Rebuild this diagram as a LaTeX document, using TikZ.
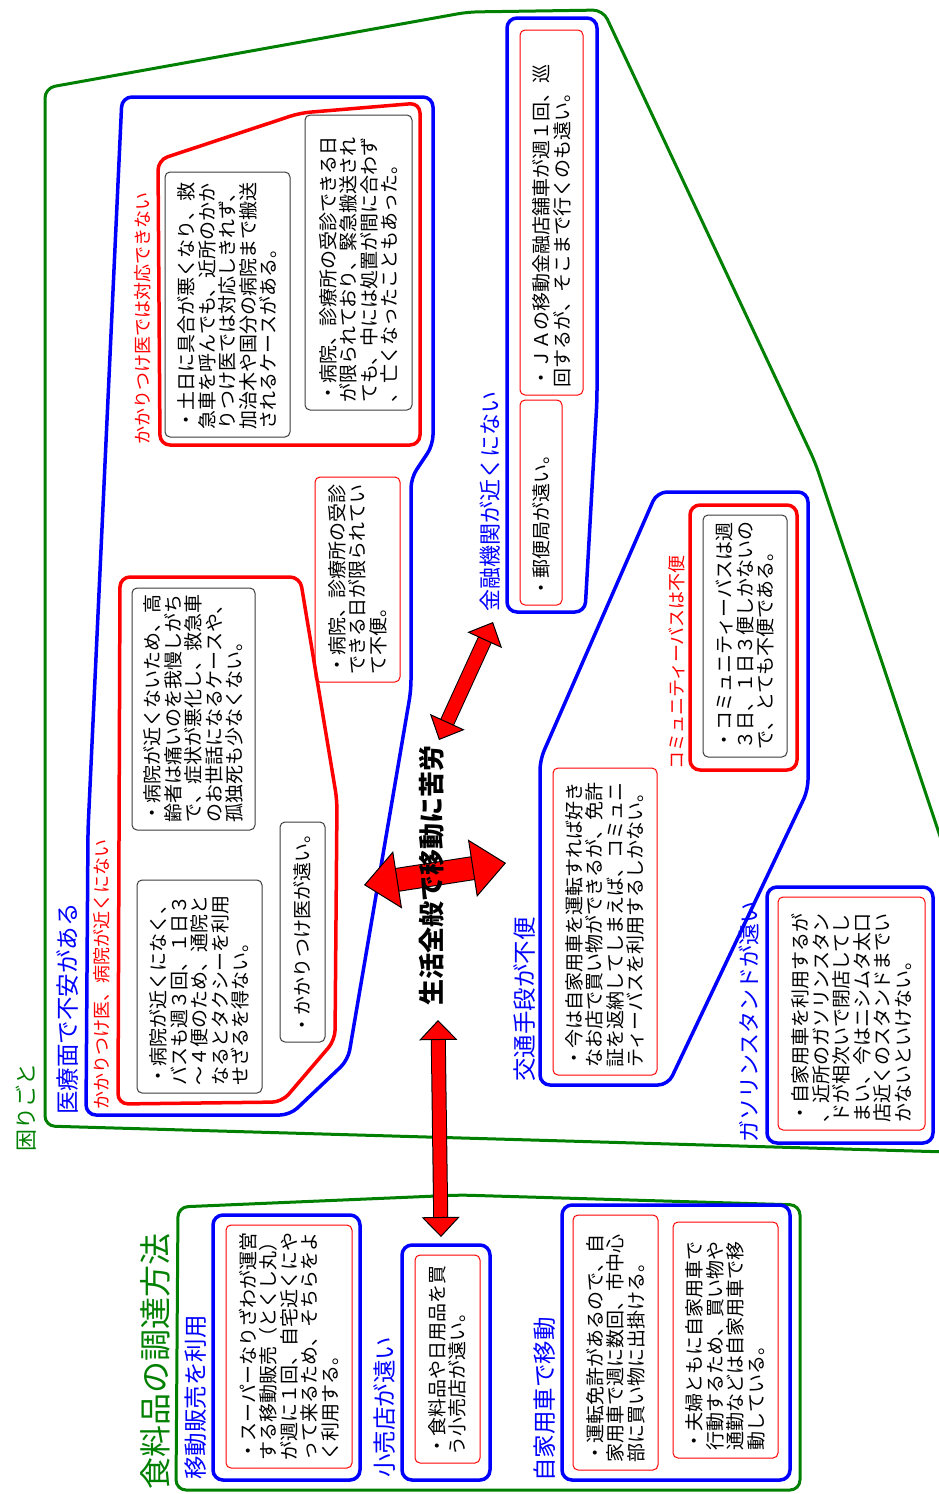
\documentclass[tikz,border=0pt]{standalone}
\usepackage{fontspec}
\setmainfont{Noto Sans CJK JP}
\usetikzlibrary{arrows.meta}
\definecolor{gr}{RGB}{0,128,0}
\definecolor{bl}{RGB}{0,0,255}
\definecolor{rd}{RGB}{255,0,0}
\definecolor{bx}{RGB}{60,60,60}
\begin{document}
\begin{tikzpicture}[x=1pt,y=-1pt,
  every node/.style={font=\fontsize{19}{20.5}\selectfont},
  tb/.style={rotate=90, align=left, inner xsep=8pt, inner ysep=0pt, rounded corners=5pt, line width=1pt},
  gbox/.style={tb, draw=bx},
  rbox/.style={tb, draw=rd},
  lab/.style={rotate=90, anchor=west, inner sep=0pt},
  glab/.style={lab, text=gr},
  blab/.style={lab, text=bl, font=\fontsize{23.5}{24}\selectfont},
  rlab/.style={lab, text=rd, font=\fontsize{18}{20}\selectfont},
  gline/.style={draw=gr, line width=3pt, rounded corners=10pt},
  bline/.style={draw=bl, line width=3.5pt, rounded corners=10pt},
  rline/.style={draw=rd, line width=3.5pt, rounded corners=10pt},
  dbl/.style={draw=rd, line width=13pt,
    {Triangle[length=20pt,width=38pt,fill=rd,color=black,line width=1pt]}-{Triangle[length=20pt,width=38pt,fill=rd,color=black,line width=1pt]},
    preaction={draw=black, line width=15pt, arrows=-, shorten >=19pt, shorten <=19pt}},
  dblbig/.style={draw=rd, line width=22pt,
    {Triangle[length=34pt,width=58pt,fill=rd,color=black,line width=1pt]}-{Triangle[length=34pt,width=58pt,fill=rd,color=black,line width=1pt]},
    preaction={draw=black, line width=24pt, arrows=-, shorten >=33pt, shorten <=33pt}}]
\useasboundingbox (0,0) rectangle (939,1494);
\clip (0,0) rectangle (939,1494);
\fill[white] (0,0) rectangle (939,1494);

% ---------- group outlines ----------
\draw[gline] (45,88) -- (468,12) -- (603,10) -- (815,462) -- (948,860) -- (948,1152) -- (45,1126) -- cycle;
\draw[bline] (122,97) -- (433,97) -- (433,445) -- (411,478) -- (411,690) -- (348,1060) -- (290,1115) -- (86,1115) -- (88,830) -- cycle;
\draw[rline] (158,160) -- (300,113) -- (420,103) -- (420,445) -- (160,445) -- cycle;
\draw[rline] (120,577) -- (300,577) -- (337,800) -- (335,1040) -- (282,1102) -- (118,1104) -- cycle;
\draw[bline] (507,18) -- (597,18) -- (597,400) -- (585,612) -- (507,612) -- cycle;
\draw[bline] (657,492) -- (808,492) -- (808,790) -- (668,1085) -- (540,1085) -- (540,760) -- cycle;
\draw[rline] (690,505) rectangle (797,770);
\draw[bline] (767,887) rectangle (933,1143);
\draw[gline] (178,1207) -- (460,1195) -- (800,1205) -- (800,1490) -- (176,1490) -- cycle;
\draw[bline] (213,1215) rectangle (360,1480);
\draw[bline] (402,1245) rectangle (490,1480);
\draw[bline] (562,1205) rectangle (790,1480);

% ---------- labels ----------
\node[glab, font=\fontsize{22}{24}\selectfont] (l0) at (26,1152) {困りごと};
\node[blab] (l1) at (68,1115) {医療面で不安がある};
\node[rlab] (l2) at (102,1110) {かかりつけ医、病院が近くにない};
\node[rlab] (l3) at (143,445) {かかりつけ医では対応できない};
\node[blab, font=\fontsize{22}{24}\selectfont] (l4) at (490,612) {金融機関が近くにない};
\node[rlab] (l5) at (677,770) {コミュニティーバスは不便};
\node[blab] (l6) at (525,1082) {交通手段が不便};
\node[blab, font=\fontsize{22}{24}\selectfont] (l7) at (749,1143) {ガソリンスタンドが遠い};
\node[glab, font=\fontsize{32}{34}\selectfont] (l8) at (155,1490) {食料品の調達方法};
\node[blab] (l9) at (196,1480) {移動販売を利用};
\node[blab] (l10) at (385,1478) {小売店が遠い};
\node[blab] (l11) at (545,1482) {自家用車で移動};

% ---------- text boxes ----------
\node[gbox, text width=249pt, minimum height=125pt] (b1) at (227.5,304.5)
 {・土日に具合が悪くなり、救\\急車を呼んでも、近所のかか\\りつけ医では対応しきれず、\\加治木や国分の病院まで搬送\\されるケースがある。};
\node[gbox, text width=279pt, minimum height=107pt] (b2) at (358.5,262.5)
 {・病院、診療所の受診できる日\\が限られており、緊急搬送され\\ても、中には処置が間に合わず\\、亡くなったこともあった。};
\node[gbox, text width=226pt, minimum height=123pt] (b3) at (193.5,709)
 {・病院が近くないため、高\\齢者は痛いのを我慢しがち\\で、症状が悪化し、救急車\\のお世話になるケースや、\\孤独死も少なくない。};
\node[gbox, text width=197pt, minimum height=125pt] (b4) at (199.5,986.5)
 {・病院が近くになく、\\バスも週３回、１日３\\～４便のため、通院と\\なるとタクシーを利用\\せざるを得ない。};
\node[gbox, text width=204pt, minimum height=45pt] (b5) at (302.5,932)
 {・かかりつけ医が遠い。};
\node[rbox, text width=189pt, minimum height=85pt] (b6) at (357.5,579.5)
 {・病院、診療所の受診\\できる日が限られてい\\て不便。};
\node[rbox, text width=349pt, minimum height=63pt] (b7) at (551.5,212.5)
 {・ＪＡの移動金融店舗車が週１回、巡\\回するが、そこまで行くのも遠い。};
\node[rbox, text width=189pt, minimum height=42pt] (b8) at (541,502.5)
 {・郵便局が遠い。};
\node[gbox, text width=226pt, minimum height=84pt] (b9) at (745,636)
 {・コミュニティーバスは週\\３日、１日３便しかないの\\で、とても不便である。};
\node[rbox, text width=291pt, minimum height=104pt] (b10) at (605,921.5)
 {・今は自家用車を運転すれば好き\\なお店で買い物ができるが、免許\\証を返納してしまえば、コミュニ\\ティーバスを利用するしかない。};
\node[rbox, text width=217pt, minimum height=147pt] (b11) at (851.5,1013.5)
 {・自家用車を利用するが\\、近所のガソリンスタン\\ドが相次いで閉店してし\\まい、今はニシムタ太口\\店近くのスタンドまでい\\かないといけない。};
\node[rbox, text width=227pt, minimum height=126pt] (b12) at (289,1346.5)
 {・スーパーなりざわが運営\\する移動販売（とくし丸）\\が週に１回、自宅近くにや\\って来るため、そちらをよ\\く利用する。};
\node[rbox, text width=192pt, minimum height=65pt] (b13) at (447.5,1359)
 {・食料品や日用品を買\\う小売店が遠い。};
\node[rbox, text width=239pt, minimum height=85pt] (b14) at (615.5,1342.5)
 {・運転免許があるので、自\\家用車で週に数回、市中心\\部に買い物に出掛ける。};
\node[rbox, text width=220pt, minimum height=105pt] (b15) at (725.5,1340)
 {・夫婦ともに自家用車で\\行動するため、買い物や\\通勤などは自家用車で移\\動している。};

% ---------- arrows ----------
\coordinate (a1s) at (439,740);
\coordinate (a1e) at (493,622);
\coordinate (a2s) at (364,885);
\coordinate (a2e) at (506,863);
\coordinate (a3s) at (438,1020);
\coordinate (a3e) at (441,1237);
\draw[dbl] (a1s) -- (a1e);
\draw[dblbig] (a2s) -- (a2e);
\draw[dbl] (a3s) -- (a3e);
\node[rotate=90, font=\bfseries\fontsize{26}{28}\selectfont] (c) at (432,875) {生活全般で移動に苦労};
\end{tikzpicture}
\end{document}
